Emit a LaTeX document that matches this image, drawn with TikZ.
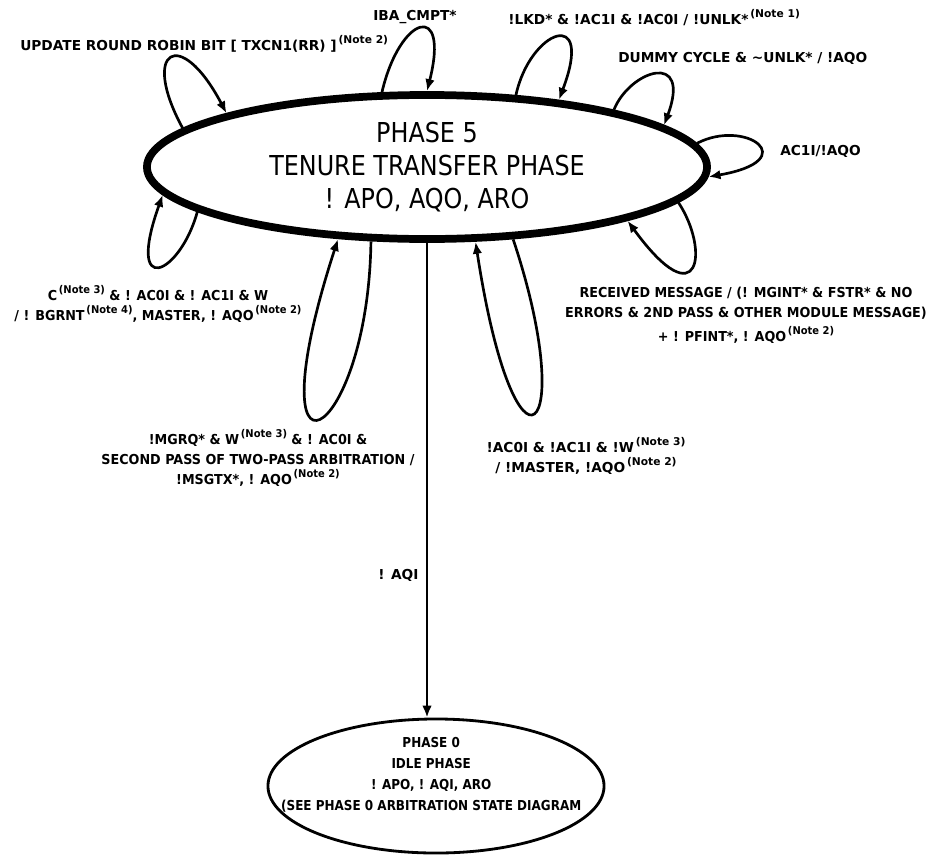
\documentclass[tikz,border=0pt]{standalone}
\usepackage{fontspec}
\setmainfont{DejaVu Sans}
\newfontfamily\statefont[FakeStretch=0.87]{DejaVu Sans}
\newfontfamily\idlefont[FakeStretch=0.875]{DejaVu Sans}
\newfontfamily\narrowfont[FakeStretch=0.93]{DejaVu Sans}
\usetikzlibrary{shapes.geometric, arrows.meta}

\newcommand{\noteup}[1]{\raisebox{0.9ex}{\fontsize{7.6pt}{7.6pt}\selectfont\,(Note #1)}}

\tikzset{
  lbl/.style={font=\bfseries\fontsize{9.75pt}{14.2pt}\selectfont, inner sep=0pt},
  lblnarrow/.style={lbl, font=\narrowfont\bfseries\fontsize{9.75pt}{14.2pt}\selectfont},
  loopline/.style={line width=1.9pt, -{Latex[length=8.5pt, width=6.8pt]}},
}

\begin{document}
\begin{tikzpicture}[x=0.025cm, y=-0.025cm]
            \useasboundingbox (0,0) rectangle (926,855);
            % states
            \node[ellipse, draw, line width=5.5pt, minimum width=14cm, minimum height=3.6cm, inner sep=0pt,
                  align=center, font=\statefont\fontsize{19.5pt}{23.4pt}\selectfont] (p5) at (427,167)
                  {PHASE 5\\ TENURE TRANSFER PHASE\\ ! APO, AQO, ARO};
            \node[ellipse, draw, line width=2pt, minimum width=8.4cm, minimum height=3.35cm,
                  label={[align=center, xshift=-0.12cm, yshift=0.27cm, font=\idlefont\bfseries\fontsize{9.75pt}{14.9pt}\selectfont]center:PHASE 0\\ IDLE PHASE\\ ! APO, ! AQI, ARO\\ (SEE PHASE 0 ARBITRATION STATE DIAGRAM}] (p0) at (436,786) {};
            % transition to phase 0
            \draw[loopline] (p5.south) -- node[lbl, pos=0.7, left=0.18cm] (aqilbl) {! AQI} (p5.south |- p0.north);
            % self loops, upper side
            \draw[loopline] (p5.171.7) .. controls (140,50) and (180,25) .. (p5.165.8);
            \draw[loopline] (p5.121.4) .. controls (400,15) and (450,0) .. (p5.90);
            \draw[loopline] (p5.39.5) .. controls (530,30) and (595,5) .. (p5.27.3);
            \draw[loopline] (p5.17.3) .. controls (630,70) and (692,50) .. (p5.10.8);
            \draw[loopline] (p5.5.4) .. controls (745,118) and (805,160) .. (p5.-2.6);
            % self loops, lower side
            \draw[loopline] (p5.191.9) .. controls (180,275) and (125,300) .. (p5.186.7);
            \draw[loopline] (p5.233.7) .. controls (368,445) and (250,510) .. (p5.219.6);
            \draw[loopline] (p5.320.3) .. controls (580,440) and (515,500) .. (p5.303.5);
            \draw[loopline] (p5.352) .. controls (710,250) and (700,320) .. (p5.345.7);
            % labels
            \node[lbl, anchor=base west] (rrlbl) at (20,50) {UPDATE ROUND ROBIN BIT [ TXCN1(RR) ]\noteup{2}};
            \node[lbl, anchor=base] (ibalbl) at (415,20) {IBA\_CMPT*};
            \node[lbl, anchor=base west] (lkdlbl) at (508,24) {!LKD* \& !AC1I \& !AC0I / !UNLK*\noteup{1}};
            \node[lbl, anchor=base west] (dummylbl) at (618,62) {DUMMY CYCLE \& \textasciitilde UNLK* / !AQO};
            \node[lbl, anchor=base west] (ac1lbl) at (780,155) {AC1I/!AQO};
            \node[lblnarrow, align=center] (bgrntlbl) at (158,304) {C\noteup{3} \& ! AC0I \& ! AC1I \& W\\ / ! BGRNT\noteup{4}, MASTER, ! AQO\noteup{2}};
            \node[lblnarrow, align=center] (mgrqlbl) at (258,458) {!MGRQ* \& W\noteup{3} \& ! AC0I \&\\ SECOND PASS OF TWO-PASS ARBITRATION /\\ !MSGTX*, ! AQO\noteup{2}};
            \node[lbl, align=center] (masterlbl) at (586,456) {!AC0I \& !AC1I \& !W\noteup{3}\\ / !MASTER, !AQO\noteup{2}};
            \node[lblnarrow, align=center] (rcvlbl) at (746,315) {RECEIVED MESSAGE / (! MGINT* \& FSTR* \& NO\\ ERRORS \& 2ND PASS \& OTHER MODULE MESSAGE)\\[3pt] + ! PFINT*, ! AQO\noteup{2}};
        \end{tikzpicture}
\end{document}
